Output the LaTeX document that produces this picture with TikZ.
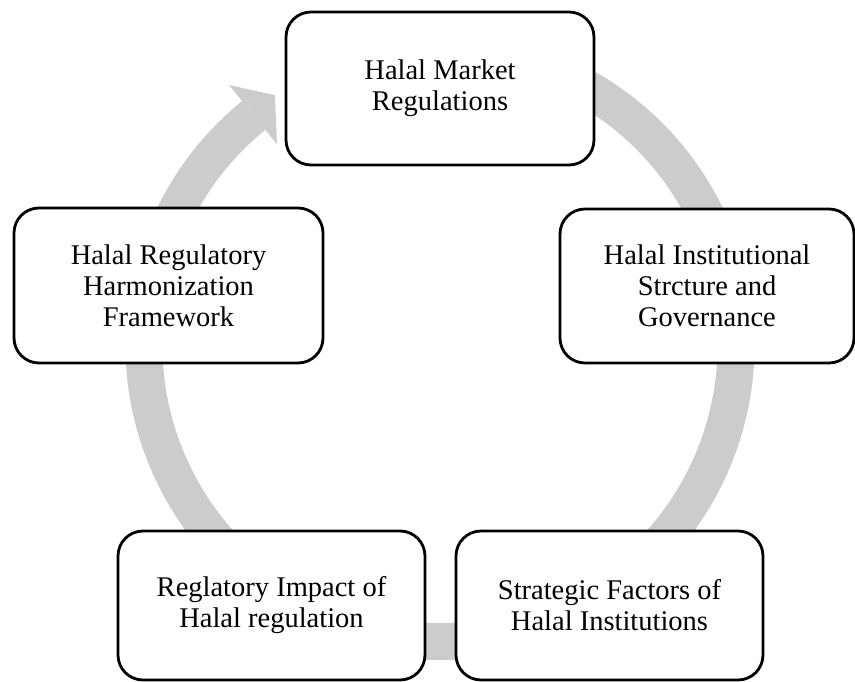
\documentclass[tikz,border=0pt]{standalone}
\usepackage{fontspec}
\setmainfont{Liberation Serif}
\definecolor{bandgray}{RGB}{204,204,204}
\tikzset{
  cyclebox/.style={draw=black, line width=2.8pt, fill=white, rounded corners=25pt,
    inner sep=0pt, align=center, font=\fontsize{28.5}{31}\selectfont},
  ring/.style={draw=bandgray, line width=37pt},
}
\begin{document}
\begin{tikzpicture}[x=1pt, y=1pt]
\useasboundingbox (0,0) rectangle (855,681);
\coordinate (C) at (440,335.5);

% circular band running clockwise, ending in a wide arrow head
\draw[ring] ([shift={(C)}]117:296) arc[start angle=117, end angle=-231, radius=296];
\fill[bandgray] ([shift={(C)}]129:259) -- ([shift={(C)}]123.4:300) -- ([shift={(C)}]129:335) -- cycle;

% stages of the cycle
\node[cyclebox, minimum width=308pt, minimum height=153pt] (market) at (440,592.5)
  {Halal Market\\Regulations};
\node[cyclebox, minimum width=294pt, minimum height=154pt] (institution) at (707,395)
  {Halal Institutional\\Strcture and\\Governance};
\node[cyclebox, minimum width=307pt, minimum height=149pt] (strategic) at (609.5,75.5)
  {Strategic Factors of\\Halal Institutions};
\node[cyclebox, minimum width=307pt, minimum height=149pt] (impact) at (271.5,75.5)
  {Reglatory Impact of\\Halal regulation};
\node[cyclebox, minimum width=309pt, minimum height=155pt] (harmon) at (168.5,395.5)
  {Halal Regulatory\\Harmonization\\Framework};
\end{tikzpicture}
\end{document}
